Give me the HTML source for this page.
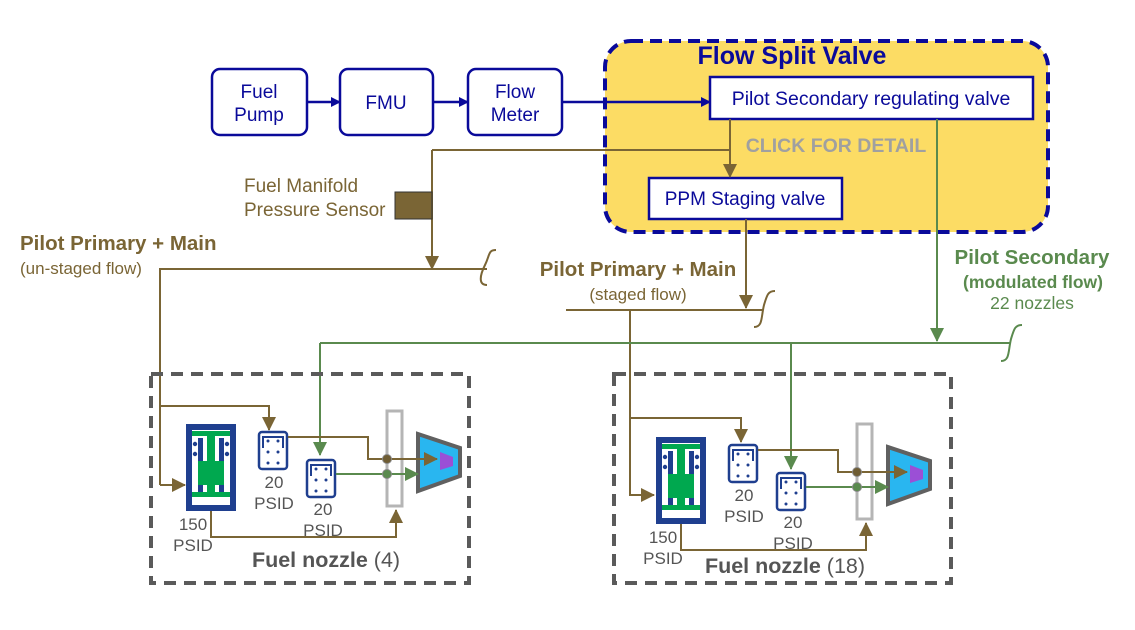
<!DOCTYPE html>
<html><head><meta charset="utf-8"><style>
html,body{margin:0;padding:0;background:#fff;}
svg{display:block;font-family:"Liberation Sans",sans-serif;}
</style></head><body>
<svg width="1135" height="630" viewBox="0 0 1135 630" xmlns="http://www.w3.org/2000/svg">
<defs>
<marker id="an" markerWidth="10" markerHeight="10" refX="9" refY="5" orient="auto" markerUnits="userSpaceOnUse"><path d="M0,0 L10,5 L0,10 z" fill="#0a0a9a"/></marker>
<marker id="ab" markerWidth="14" markerHeight="14" refX="13" refY="7" orient="auto" markerUnits="userSpaceOnUse"><path d="M0,0 L14,7 L0,14 z" fill="#7a6535"/></marker>
<marker id="ag" markerWidth="14" markerHeight="14" refX="13" refY="7" orient="auto" markerUnits="userSpaceOnUse"><path d="M0,0 L14,7 L0,14 z" fill="#5a8a4e"/></marker>
<g id="nz">
  <rect x="186" y="424" width="50" height="87" fill="#1f3f8f"/>
  <rect x="192" y="430" width="38" height="75" fill="#fff"/>
  <rect x="198" y="438" width="5" height="58" fill="#1f3f8f"/>
  <rect x="219" y="438" width="5" height="58" fill="#1f3f8f"/>
  <rect x="192" y="431" width="38" height="5" fill="#00a84f"/>
  <rect x="207" y="436" width="8" height="58" fill="#00a84f"/>
  <rect x="198" y="461" width="26" height="24" fill="#00a84f"/>
  <rect x="192" y="492" width="38" height="5" fill="#00a84f"/>
  <rect x="192" y="497" width="38" height="8" fill="#fff"/>
  <g fill="#1f3f8f"><circle cx="195" cy="444" r="2.2"/><circle cx="195" cy="454" r="2.2"/><circle cx="227" cy="444" r="2.2"/><circle cx="227" cy="454" r="2.2"/></g>
  <g id="sv">
    <rect x="259" y="432" width="28" height="37" rx="3" fill="#fff" stroke="#1f3f8f" stroke-width="2.5"/>
    <path d="M263,448 V437 H283 V448" fill="none" stroke="#1f3f8f" stroke-width="2"/>
    <g fill="#1f3f8f"><circle cx="268" cy="441" r="1.5"/><circle cx="278" cy="441" r="1.5"/><circle cx="268" cy="452" r="1.5"/><circle cx="278" cy="452" r="1.5"/><circle cx="268" cy="463" r="1.5"/><circle cx="278" cy="463" r="1.5"/></g>
  </g>
  <use href="#sv" transform="translate(48,28)"/>
  <rect x="387" y="411" width="15" height="95" fill="#fff" stroke="#b5b5b5" stroke-width="3"/>
  <path d="M418,434 L460,448 L460,476 L418,491 z" fill="#29b6f0" stroke="#606060" stroke-width="4" stroke-linejoin="miter"/>
  <path d="M440,452 L453,457 L453,466 L440,470 z" fill="#9b4fd6"/>
  <path d="M288,437 H368 V459 H437" fill="none" stroke="#7a6535" stroke-width="2" marker-end="url(#ab)"/>
  <path d="M336,474 H418" fill="none" stroke="#5a8a4e" stroke-width="2" marker-end="url(#ag)"/>
  <circle cx="387" cy="459" r="4.5" fill="#6e5c33" stroke="#888" stroke-width="1"/>
  <circle cx="387" cy="474" r="4.5" fill="#5a8a4e" stroke="#888" stroke-width="1"/>
  <path d="M211,511 V537 H396 V510" fill="none" stroke="#7a6535" stroke-width="2" marker-end="url(#ab)"/>
  <g fill="#555" font-size="17" text-anchor="middle">
    <text x="193" y="530">150</text><text x="193" y="551">PSID</text>
    <text x="274" y="488">20</text><text x="274" y="509">PSID</text>
    <text x="323" y="515">20</text><text x="323" y="536">PSID</text>
  </g>
</g>
</defs>

<g fill="#fff" stroke="#0a0a9a" stroke-width="2.5">
<rect x="212" y="69" width="95" height="66" rx="8"/>
<rect x="340" y="69" width="93" height="66" rx="8"/>
<rect x="468" y="69" width="94" height="66" rx="8"/>
</g>
<g fill="#0a0a9a" font-size="19" text-anchor="middle">
<text x="259" y="98">Fuel</text><text x="259" y="121">Pump</text>
<text x="386" y="109">FMU</text>
<text x="515" y="98">Flow</text><text x="515" y="121">Meter</text>
</g>
<g stroke="#0a0a9a" stroke-width="2.5" fill="none">
<path d="M307,102 H340" marker-end="url(#an)"/>
<path d="M433,102 H468" marker-end="url(#an)"/>
</g>

<rect x="605" y="41" width="443" height="191" rx="26" fill="#fcdc64" stroke="#0a0a9a" stroke-width="4" stroke-dasharray="12,7"/>
<text x="792" y="64" text-anchor="middle" font-size="25" font-weight="bold" fill="#0a0a9a">Flow Split Valve</text>
<path d="M562,102 H710" stroke="#0a0a9a" stroke-width="2.5" fill="none" marker-end="url(#an)"/>
<rect x="710" y="77" width="323" height="42" fill="#fff" stroke="#0a0a9a" stroke-width="2.5"/>
<text x="871" y="105" text-anchor="middle" font-size="19.5" fill="#0a0a9a">Pilot Secondary regulating valve</text>
<text x="836" y="152" text-anchor="middle" font-size="19.5" font-weight="bold" fill="#a0a0a0">CLICK FOR DETAIL</text>
<rect x="649" y="178" width="193" height="41" fill="#fff" stroke="#0a0a9a" stroke-width="2.5"/>
<text x="745" y="205" text-anchor="middle" font-size="19" fill="#0a0a9a">PPM Staging valve</text>

<g stroke="#7a6535" stroke-width="2" fill="none">
<path d="M730,119 V177" marker-end="url(#ab)"/>
<path d="M432,150 H730"/>
<path d="M432,150 V269" marker-end="url(#ab)"/>
<path d="M160,485 V269 H487"/>
<path d="M487,285 C478,285 480,275 485,265 C490,255 488,250 496,250"/>
<path d="M160,406 H269 V430" marker-end="url(#ab)"/>
<path d="M160,485 H185" marker-end="url(#ab)"/>
<path d="M746,219 V308" marker-end="url(#ab)"/>
<path d="M566,310 H763"/>
<path d="M754,327 C763,327 761,317 764,305 C767,295 768,291 775,291"/>
<path d="M630,310 V495 H654" marker-end="url(#ab)"/>
<path d="M630,418 H741 V442" marker-end="url(#ab)"/>
</g>
<rect x="395" y="192" width="37" height="27" fill="#7a6535" stroke="#333" stroke-width="1"/>
<g fill="#7a6535" font-size="19">
<text x="244" y="192">Fuel Manifold</text>
<text x="244" y="216">Pressure Sensor</text>
<text x="20" y="250" font-weight="bold" font-size="20.5">Pilot Primary + Main</text>
<text x="20" y="274" font-size="17">(un-staged flow)</text>
<text x="638" y="276" font-weight="bold" font-size="20.5" text-anchor="middle">Pilot Primary + Main</text>
<text x="638" y="300" font-size="17" text-anchor="middle">(staged flow)</text>
</g>

<g stroke="#5a8a4e" stroke-width="2" fill="none">
<path d="M937,119 V341" marker-end="url(#ag)"/>
<path d="M320,343 H1010"/>
<path d="M1001,361 C1010,361 1008,351 1011,339 C1014,329 1015,325 1022,325"/>
<path d="M320,343 V455" marker-end="url(#ag)"/>
<path d="M791,343 V469" marker-end="url(#ag)"/>
</g>
<g fill="#5a8a4e" text-anchor="middle">
<text x="1032" y="264" font-size="20.5" font-weight="bold">Pilot Secondary</text>
<text x="1033" y="288" font-size="17.5" font-weight="bold">(modulated flow)</text>
<text x="1032" y="309" font-size="17.5">22 nozzles</text>
</g>

<rect x="151" y="374" width="318" height="209" fill="none" stroke="#5a5a5a" stroke-width="4" stroke-dasharray="12,8"/>
<rect x="614" y="374" width="337" height="209" fill="none" stroke="#5a5a5a" stroke-width="4" stroke-dasharray="12,8"/>
<use href="#nz"/>
<use href="#nz" transform="translate(470,13)"/>
<text x="326" y="567" text-anchor="middle" font-size="21.5" fill="#555"><tspan font-weight="bold">Fuel nozzle</tspan> (4)</text>
<text x="785" y="573" text-anchor="middle" font-size="21.5" fill="#555"><tspan font-weight="bold">Fuel nozzle</tspan> (18)</text>
</svg>
</body></html>
